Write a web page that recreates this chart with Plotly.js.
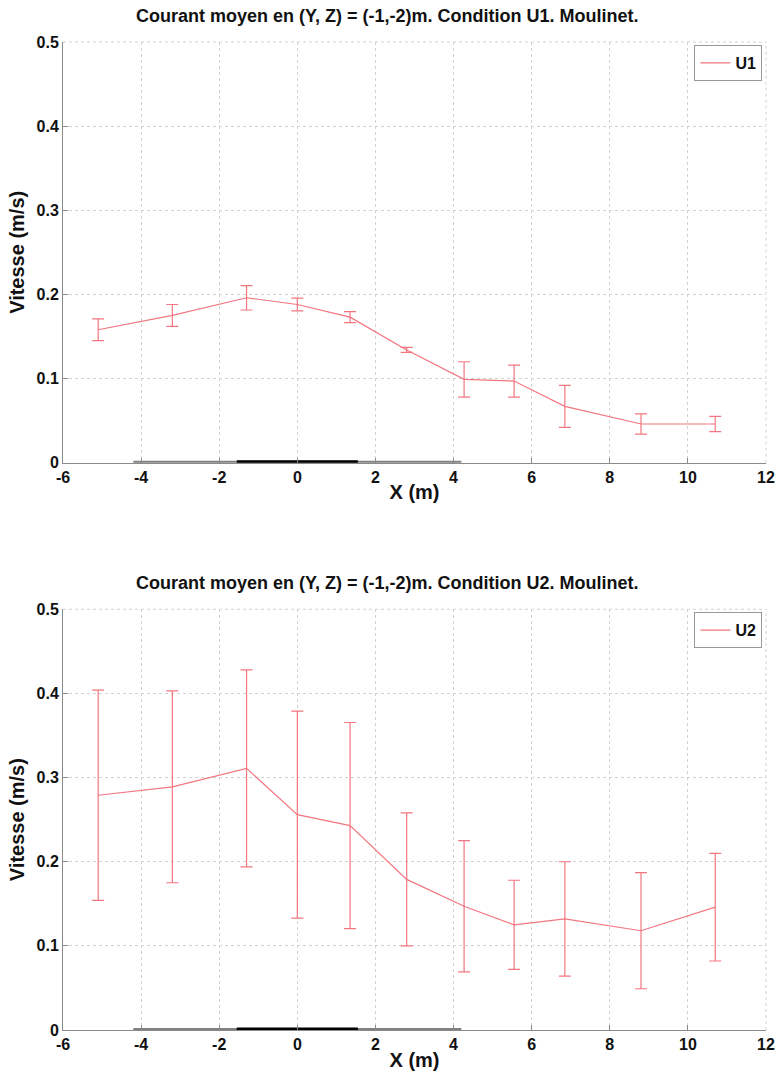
<!DOCTYPE html>
<html>
<head>
<meta charset="utf-8">
<script src="https://cdn.plot.ly/plotly-3.0.1.min.js"></script>
<style>
  html, body { margin: 0; padding: 0; background: #fff; }
  #chart { width: 776px; height: 1082px; }
</style>
</head>
<body>
<div id="chart"></div>
<script>
// ---- Data ----
const xPos = [-5.1, -3.2, -1.3, 0, 1.35, 2.8, 4.27, 5.55, 6.85, 8.8, 10.7];

const u1Mean = [0.158, 0.175, 0.196, 0.188, 0.173, 0.134, 0.099, 0.097, 0.067, 0.046, 0.046];
const u1Err  = [0.013, 0.013, 0.0145, 0.0075, 0.0065, 0.003, 0.021, 0.019, 0.025, 0.012, 0.009];

const u2Mean = [0.279, 0.289, 0.311, 0.256, 0.243, 0.179, 0.147, 0.125, 0.132, 0.118, 0.146];
const u2Err  = [0.125, 0.114, 0.117, 0.123, 0.1225, 0.079, 0.078, 0.053, 0.068, 0.069, 0.064];

// structure segments drawn along the bottom axis
const structGrayX  = [-4.2, 4.2];
const structBlackX = [-1.55, 1.55];
const structY      = [0, 0];

// tick values and labels
const xTickVals = [-6, -4, -2, 0, 2, 4, 6, 8, 10, 12];
const xTickText = ["-6", "-4", "-2", "0", "2", "4", "6", "8", "10", "12"];
const yTickVals = [0, 0.1, 0.2, 0.3, 0.4, 0.5];
const yTickText = ["0", "0.1", "0.2", "0.3", "0.4", "0.5"];

const titles = [
  "Courant moyen en (Y, Z) = (-1,-2)m. Condition U1. Moulinet.",
  "Courant moyen en (Y, Z) = (-1,-2)m. Condition U2. Moulinet."
];
const seriesNames = ["U1", "U2"];
const xTitle = "X (m)";
const yTitle = "Vitesse (m/s)";

// ---- Styling ----
const FONT = "'Liberation Sans', Arial, Helvetica, sans-serif";
const RED = "rgb(242,118,128)";
const AXIS_GRAY = "#8a8a8a";
const GRID = "#d2d2d2";
const bold = s => "<b>" + s + "</b>";

function seriesTrace(mean, err, name, xa, ya, legend) {
  return {
    type: "scatter", mode: "lines",
    x: xPos, y: mean, name: bold(name),
    xaxis: xa, yaxis: ya, legend: legend,
    line: { color: RED, width: 1.2 },
    error_y: { type: "data", array: err, visible: true, color: RED, thickness: 1.2, width: 6 },
    cliponaxis: false
  };
}
function structTrace(xs, color, w, xa, ya) {
  return {
    type: "scatter", mode: "lines", x: xs, y: structY,
    xaxis: xa, yaxis: ya, showlegend: false, hoverinfo: "skip",
    line: { color: color, width: w }, cliponaxis: false
  };
}

const traces = [
  structTrace(structGrayX, "#808080", 4, "x", "y"),
  structTrace(structBlackX, "#000000", 5, "x", "y"),
  seriesTrace(u1Mean, u1Err, seriesNames[0], "x", "y", "legend"),
  structTrace(structGrayX, "#808080", 4, "x2", "y2"),
  structTrace(structBlackX, "#000000", 5, "x2", "y2"),
  seriesTrace(u2Mean, u2Err, seriesNames[1], "x2", "y2", "legend2")
];

const commonAxis = {
  showline: true, linecolor: AXIS_GRAY, linewidth: 1,
  ticks: "inside", ticklen: 5, tickcolor: AXIS_GRAY,
  showgrid: true, gridcolor: GRID, griddash: "dot", gridwidth: 1,
  zeroline: false, mirror: false, fixedrange: true,
  ticklabeloverflow: "allow",
  tickfont: { family: FONT, size: 16, color: "#111" }
};

function xAxis(anchor) {
  return Object.assign({}, commonAxis, {
    anchor: anchor, domain: [0, 1], range: [-6, 12.0001],
    tickmode: "array", tickvals: xTickVals, ticktext: xTickText.map(bold),
    title: { text: bold(xTitle), font: { family: FONT, size: 20, color: "#111" }, standoff: 0 }
  });
}
function yAxis(anchor, dom) {
  return Object.assign({}, commonAxis, {
    anchor: anchor, domain: dom, range: [0, 0.50001],
    tickmode: "array", tickvals: yTickVals, ticktext: yTickText.map(bold),
    title: { text: bold(yTitle), font: { family: FONT, size: 20, color: "#111" }, standoff: 6 }
  });
}

const legendStyle = {
  xref: "paper", yref: "paper", x: 0.995, xanchor: "right", yanchor: "top",
  bgcolor: "#ffffff", bordercolor: "#999999", borderwidth: 1,
  font: { family: FONT, size: 16, color: "#111" },
  itemwidth: 30, tracegroupgap: 0
};

// dotted frame lines on the top and right edges (grid at the range ends)
function edgeShapes(xa, ya) {
  const line = { color: GRID, width: 1, dash: "dot" };
  return [
    { type: "line", xref: xa + " domain", yref: ya + " domain", x0: 0, x1: 1, y0: 1, y1: 1, line: line, layer: "below" },
    { type: "line", xref: xa + " domain", yref: ya + " domain", x0: 1, x1: 1, y0: 0, y1: 1, line: line, layer: "below" }
  ];
}

const layout = {
  width: 776, height: 1082,
  margin: { l: 63, r: 10, t: 42, b: 52 },
  paper_bgcolor: "#ffffff", plot_bgcolor: "#ffffff",
  showlegend: true,
  font: { family: FONT, color: "#111" },
  xaxis: xAxis("y"),
  yaxis: yAxis("x", [0.5742, 1]),
  xaxis2: xAxis("y2"),
  yaxis2: yAxis("x2", [0, 0.4258]),
  legend: Object.assign({}, legendStyle, { y: 0.997 }),
  legend2: Object.assign({}, legendStyle, { y: 0.4228 }),
  shapes: edgeShapes("x", "y").concat(edgeShapes("x2", "y2")),
  annotations: [
    { text: bold(titles[0]), xref: "paper", yref: "paper", x: 0.461, y: 1, yanchor: "bottom", yshift: 14,
      showarrow: false, font: { family: FONT, size: 18, color: "#111" } },
    { text: bold(titles[1]), xref: "paper", yref: "paper", x: 0.461, y: 0.4258, yanchor: "bottom", yshift: 14,
      showarrow: false, font: { family: FONT, size: 18, color: "#111" } }
  ]
};

Plotly.newPlot("chart", traces, layout, { staticPlot: true, displayModeBar: false });
</script>
</body>
</html>
